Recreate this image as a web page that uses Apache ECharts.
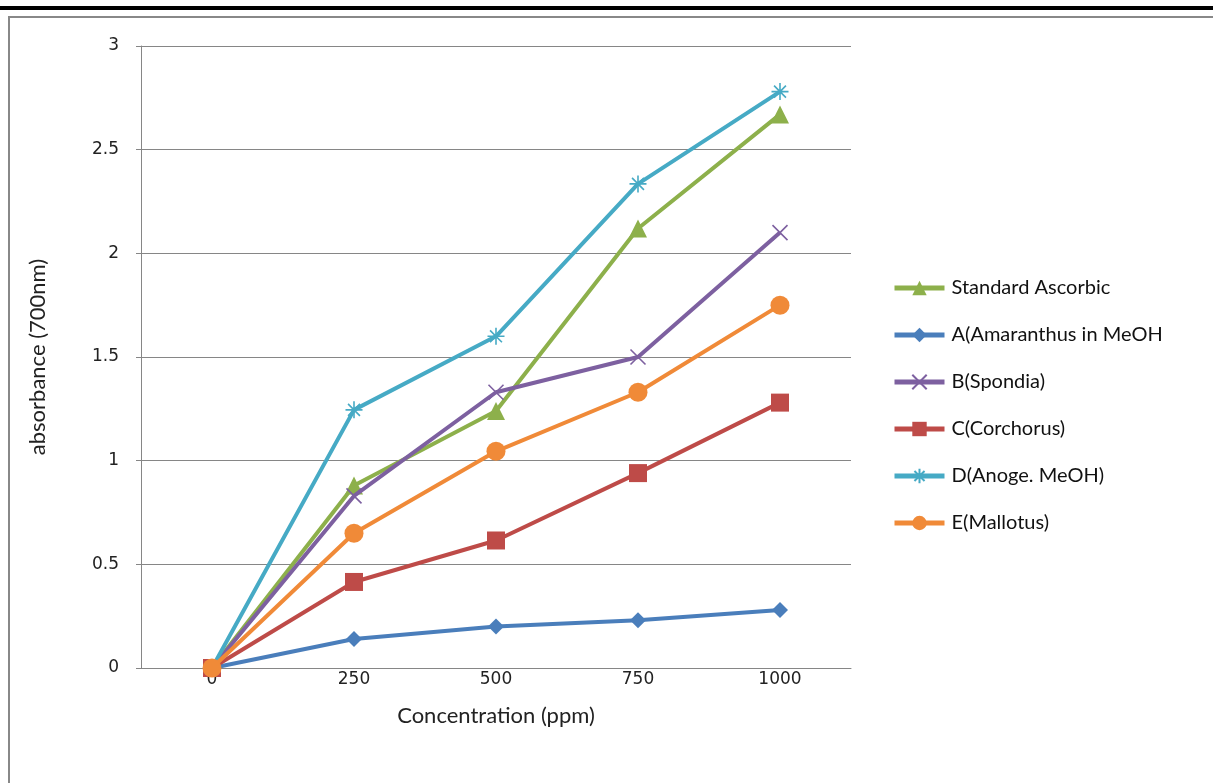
<!DOCTYPE html>
<html>
<head>
<meta charset="utf-8">
<script src="https://cdn.jsdelivr.net/npm/echarts@6/dist/echarts.min.js"></script>
<style>
html,body{margin:0;padding:0;background:#fff;}
#chart{width:1213px;height:783px;}
</style>
</head>
<body>
<div id="chart"></div>
<script>
const categories = ['0', '250', '500', '750', '1000'];
const yTicks = [0, 0.5, 1, 1.5, 2, 2.5, 3];
const seriesNames = ['Standard Ascorbic', 'A(Amaranthus in MeOH', 'B(Spondia)', 'C(Corchorus)', 'D(Anoge. MeOH)', 'E(Mallotus)'];
const standardAscorbic = [0, 0.88, 1.24, 2.12, 2.67];
const amaranthus = [0, 0.14, 0.20, 0.23, 0.28];
const spondia = [0, 0.83, 1.33, 1.50, 2.10];
const corchorus = [0, 0.415, 0.615, 0.94, 1.28];
const anoge = [0, 1.245, 1.60, 2.335, 2.78];
const mallotus = [0, 0.65, 1.045, 1.33, 1.75];

const colors = ['#8DB04B', '#4A7EBB', '#7D60A0', '#BE4B48', '#46AAC5', '#F08A38'];
const XPATH = 'path://M0,0 L10,10 M10,0 L0,10';
const STAR = 'path://M0,5 L10,5 M5,0 L5,10 M1.5,1.5 L8.5,8.5 M8.5,1.5 L1.5,8.5';
const symbols = ['triangle', 'diamond', XPATH, 'rect', STAR, 'circle'];
const sizes = [18, 16, 15, 18, 17, 19];
const datas = [standardAscorbic, amaranthus, spondia, corchorus, anoge, mallotus];

const chart = echarts.init(document.getElementById('chart'));
const series = seriesNames.map((n, i) => {
  const stroke = (i === 2 || i === 4);
  return {
    name: n,
    type: 'line',
    data: datas[i],
    symbol: symbols[i],
    symbolSize: sizes[i],
    showAllSymbol: true,
    lineStyle: { color: colors[i], width: 4 },
    itemStyle: stroke ? { color: 'rgba(0,0,0,0)', borderColor: colors[i], borderWidth: 1.6 } : { color: colors[i], borderWidth: 0 },
    emphasis: { disabled: true },
    animation: false,
    z: 2 + i
  };
});

chart.setOption({
  animation: false,
  grid: { left: 141, top: 46, width: 710, height: 622, containLabel: false },
  xAxis: {
    type: 'category',
    data: categories,
    boundaryGap: true,
    axisLine: { lineStyle: { color: '#868686', width: 1 } },
    axisTick: { show: false },
    axisLabel: { color: '#222', fontFamily: 'DejaVu Sans', fontSize: 17, margin: 3 },
    name: 'Concentration (ppm)',
    nameLocation: 'middle',
    nameGap: 37,
    nameTextStyle: { color: '#222', fontFamily: 'Lato', fontSize: 22 }
  },
  yAxis: {
    type: 'value',
    min: yTicks[0],
    max: yTicks[yTicks.length - 1],
    interval: 0.5,
    axisLine: { show: true, lineStyle: { color: '#868686', width: 1 } },
    axisTick: { show: true, length: 5, lineStyle: { color: '#868686' } },
    splitLine: { lineStyle: { color: '#868686', width: 1 } },
    axisLabel: { color: '#222', fontFamily: 'DejaVu Sans', fontSize: 17, margin: 22 },
    name: 'absorbance (700nm)',
    nameLocation: 'middle',
    nameGap: 92,
    nameTextStyle: { color: '#222', fontFamily: 'Lato', fontSize: 22 }
  },
  legend: {
    orient: 'vertical',
    left: 887,
    top: 273,
    itemWidth: 50,
    itemHeight: 18,
    itemGap: 27,
    data: seriesNames,
    lineStyle: { width: 5 },
    textStyle: { color: '#111', fontFamily: 'Lato', fontSize: 20, padding: [0, 0, 0, 2] }
  },
  graphic: [
    { type: 'rect', shape: { x: 0, y: 6, width: 1213, height: 4 }, style: { fill: '#000' }, silent: true },
    { type: 'rect', shape: { x: 9, y: 17, width: 1220, height: 800 }, style: { fill: 'none', stroke: '#888', lineWidth: 2 }, silent: true }
  ],
  series: series
});
</script>
</body>
</html>
